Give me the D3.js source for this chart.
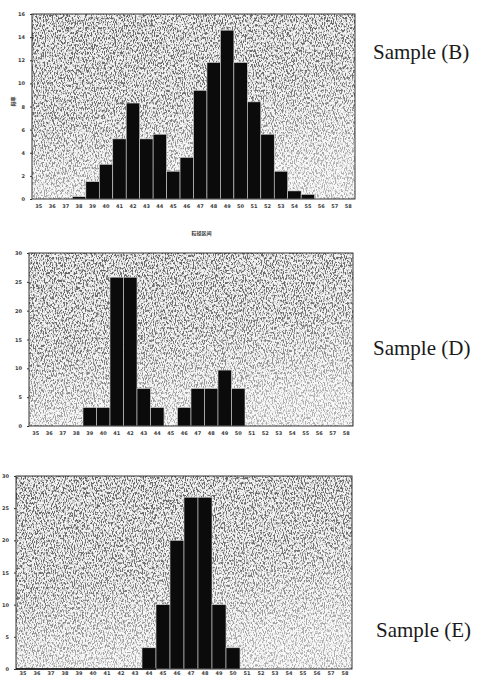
<!DOCTYPE html>
<html>
<head>
<meta charset="utf-8">
<script src="https://cdn.jsdelivr.net/npm/d3@7"></script>
<style>
  html, body { margin: 0; padding: 0; background: #fff; }
  svg { display: block; }
</style>
</head>
<body>
<script>
const width = 483;
const height = 678;

// grain sizes (same bins on all three histograms)
const categories = ["35","36","37","38","39","40","41","42","43","44","45","46",
                    "47","48","49","50","51","52","53","54","55","56","57","58"];

const valuesB = [0, 0, 0, 0.2, 1.5, 3.0, 5.2, 8.3, 5.2, 5.6, 2.4, 3.6,
                 9.4, 11.8, 14.6, 11.8, 8.4, 5.6, 2.4, 0.7, 0.4, 0, 0, 0];
const valuesD = [0, 0, 0, 0, 3.2, 3.2, 25.8, 25.8, 6.5, 3.2, 0, 3.2,
                 6.5, 6.5, 9.7, 6.5, 0, 0, 0, 0, 0, 0, 0, 0];
const valuesE = [0, 0, 0, 0, 0, 0, 0, 0, 0, 3.3, 10, 20,
                 26.7, 26.7, 10, 3.3, 0, 0, 0, 0, 0, 0, 0, 0];

const ticksB = [0, 2, 4, 6, 8, 10, 12, 14, 16];
const ticksD = [0, 5, 10, 15, 20, 25, 30];
const ticksE = [0, 5, 10, 15, 20, 25, 30];

const sampleNames = ["Sample (B)", "Sample (D)", "Sample (E)"];

const panels = [
  {values: valuesB, ticks: ticksB, name: sampleNames[0],
   left: 32, right: 355, top: 14, bottom: 199, pad: 5, labelX: 373, labelY: 59,
   yTitle: "频率", xTitle: "粒径区间"},
  {values: valuesD, ticks: ticksD, name: sampleNames[1],
   left: 29, right: 353, top: 253, bottom: 426, pad: 5, labelX: 373, labelY: 355},
  {values: valuesE, ticks: ticksE, name: sampleNames[2],
   left: 16, right: 352, top: 476, bottom: 669, pad: 2, labelX: 376, labelY: 637}
];

const svg = d3.select("body")
  .append("svg")
  .attr("width", width)
  .attr("height", height);

const defs = svg.append("defs");

// scanned print speckle
const grain = defs.append("filter")
  .attr("id", "grain")
  .attr("x", 0).attr("y", 0).attr("width", 1).attr("height", 1);
grain.append("feTurbulence")
  .attr("type", "fractalNoise")
  .attr("baseFrequency", "0.9 0.4")
  .attr("numOctaves", 3)
  .attr("seed", 7)
  .attr("result", "noise");
grain.append("feColorMatrix")
  .attr("in", "noise")
  .attr("type", "matrix")
  .attr("values", "0 0 0 0 0.12  0 0 0 0 0.12  0 0 0 0 0.12  6 0 0 0 -2.75")
  .attr("result", "dots");
grain.append("feGaussianBlur")
  .attr("in", "dots").attr("stdDeviation", 0.35).attr("result", "soft");
grain.append("feComposite")
  .attr("in", "soft").attr("in2", "SourceGraphic")
  .attr("operator", "over").attr("result", "mix");
grain.append("feComposite")
  .attr("in", "mix").attr("in2", "SourceGraphic")
  .attr("operator", "in");

const fade = defs.append("linearGradient")
  .attr("id", "fade")
  .attr("x1", "0%").attr("y1", "0%").attr("x2", "30%").attr("y2", "100%");
fade.append("stop").attr("offset", "0%").attr("stop-color", "#fff").attr("stop-opacity", 0);
fade.append("stop").attr("offset", "55%").attr("stop-color", "#fff").attr("stop-opacity", 0.1);
fade.append("stop").attr("offset", "100%").attr("stop-color", "#fff").attr("stop-opacity", 0.5);

panels.forEach((p, i) => {
  const g = svg.append("g").attr("class", "panel");

  const x = d3.scaleBand()
    .domain(categories)
    .range([p.left, p.right])
    .padding(0);

  const y = d3.scaleLinear()
    .domain([0, d3.max(p.ticks)])
    .range([p.bottom, p.top]);

  // plot background
  g.append("rect")
    .attr("x", p.left).attr("y", p.top)
    .attr("width", p.right - p.left).attr("height", p.bottom - p.top)
    .attr("fill", "#f2f2f2")
    .attr("filter", "url(#grain)");
  g.append("rect")
    .attr("x", p.left).attr("y", p.top)
    .attr("width", p.right - p.left).attr("height", p.bottom - p.top)
    .attr("fill", "url(#fade)");

  // bars
  g.selectAll("rect.bar")
    .data(categories.map((c, j) => ({cat: c, v: p.values[j]})).filter(d => d.v > 0))
    .enter()
    .append("rect")
      .attr("class", "bar")
      .attr("x", d => x(d.cat))
      .attr("y", d => y(d.v))
      .attr("width", x.bandwidth())
      .attr("height", d => y(0) - y(d.v))
      .attr("fill", "#0b0b0b")
      .attr("stroke", "#d8d8d8")
      .attr("stroke-width", 0.6);

  // frame
  g.append("rect")
    .attr("x", p.left).attr("y", p.top)
    .attr("width", p.right - p.left).attr("height", p.bottom - p.top)
    .attr("fill", "none")
    .attr("stroke", "#222")
    .attr("stroke-width", 0.9);

  // axes
  const yAxis = g.append("g")
    .attr("transform", `translate(${p.left},0)`)
    .call(d3.axisLeft(y).tickValues(p.ticks).tickSize(2).tickPadding(5));
  const xAxis = g.append("g")
    .attr("transform", `translate(0,${p.bottom})`)
    .call(d3.axisBottom(x).tickSize(0).tickPadding(p.pad));

  [yAxis, xAxis].forEach(ax => {
    ax.select(".domain").remove();
    ax.selectAll("line").attr("stroke", "#333");
    ax.selectAll("text")
      .attr("font-family", "DejaVu Sans, sans-serif")
      .attr("font-size", 5)
      .attr("font-weight", "bold")
      .attr("fill", "#3a3a3a");
  });

  if (i === 2) {
    // darker bottom rule on the last chart
    g.append("line")
      .attr("x1", p.left).attr("x2", x("45"))
      .attr("y1", p.bottom).attr("y2", p.bottom)
      .attr("stroke", "#111").attr("stroke-width", 1.6);
  }

  if (p.yTitle) {
    g.append("text")
      .attr("transform", `translate(15,${(p.top + p.bottom) / 2 - 5}) rotate(-90)`)
      .attr("text-anchor", "middle")
      .attr("font-family", "Noto Sans CJK SC, sans-serif")
      .attr("font-size", 5)
      .attr("font-weight", "bold")
      .attr("fill", "#333")
      .text(p.yTitle);
  }
  if (p.xTitle) {
    g.append("text")
      .attr("x", (p.left + p.right) / 2 + 8)
      .attr("y", p.bottom + 36)
      .attr("text-anchor", "middle")
      .attr("font-family", "Noto Sans CJK SC, sans-serif")
      .attr("font-size", 5)
      .attr("font-weight", "bold")
      .attr("fill", "#333")
      .text(p.xTitle);
  }

  svg.append("text")
    .attr("x", p.labelX)
    .attr("y", p.labelY)
    .attr("font-family", "Liberation Serif, Times New Roman, serif")
    .attr("font-size", 21)
    .attr("fill", "#1a1a1a")
    .text(p.name);
});
</script>
</body>
</html>
